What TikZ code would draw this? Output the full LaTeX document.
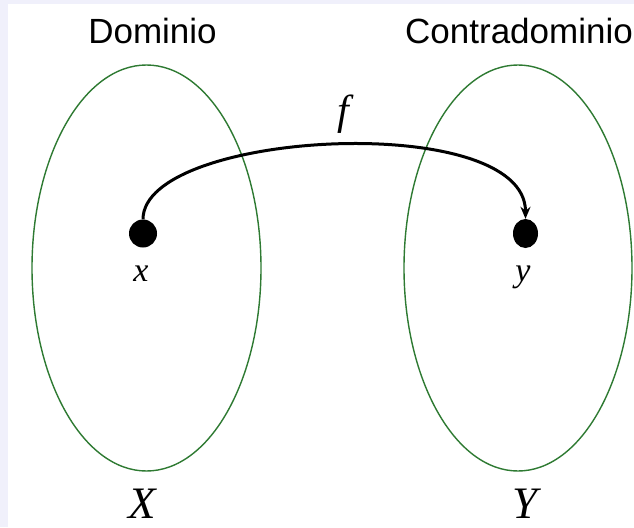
\documentclass[tikz,border=0pt]{standalone}
\usepackage{fontspec}
\setmainfont{Liberation Sans}
\newfontfamily\mathfam{Liberation Serif}
\usetikzlibrary{shapes.geometric,arrows.meta}
\definecolor{bgl}{RGB}{240,240,251}
\definecolor{setgreen}{RGB}{46,122,50}
\tikzset{
  setell/.style={draw=setgreen, line width=1.4pt, ellipse, inner sep=0pt},
  dotnode/.style={fill=black, ellipse, inner sep=0pt},
  title/.style={font=\fontsize{35}{38}\selectfont, anchor=base, inner sep=0pt},
  elem/.style={font=\mathfam\itshape\fontsize{34}{36}\selectfont, anchor=base, inner sep=0pt},
  setname/.style={font=\mathfam\itshape\fontsize{45}{48}\selectfont, anchor=base, inner sep=0pt},
  fname/.style={font=\mathfam\itshape\fontsize{42}{44}\selectfont, anchor=base, inner sep=0pt},
  maparrow/.style={line width=3pt, -{Stealth[length=12pt,width=10pt]}}
}
\begin{document}
\begin{tikzpicture}[x=1pt,y=-1pt]
\useasboundingbox (0,0) rectangle (634,527);
\fill[bgl] (0,0) rectangle (634,527);
\fill[white] (8,4) rectangle (634,527);
\node[setell, minimum width=229pt, minimum height=406pt] (A) at (146.5,268) {};
\node[setell, minimum width=228pt, minimum height=406pt] (B) at (518,268) {};
\node[title] (tA) at (152.5,44) {Dominio};
\node[title] (tB) at (519,44) {Contradominio};
\node[dotnode, minimum width=28pt, minimum height=28pt] (x) at (143,233.5) {};
\node[dotnode, minimum width=25pt, minimum height=29pt] (y) at (525.5,233.5) {};
\node[elem] (lx) at (141,281) {x};
\node[elem] (ly) at (523,281) {y};
\node[setname] (lX) at (142,518) {X};
\node[setname] (lY) at (525,518) {Y};
\node[fname] (lf) at (343,124) {f};
\draw[maparrow] (x.north) .. controls +(0,-89) and +(0,-109) .. (y.north);
\end{tikzpicture}
\end{document}
